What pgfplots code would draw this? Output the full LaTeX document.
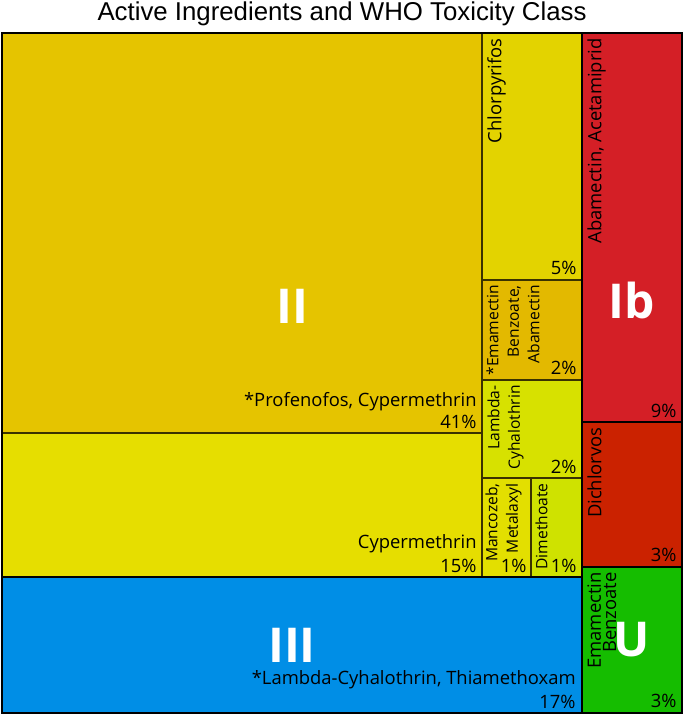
\documentclass[border=0pt]{standalone}
\usepackage{pgfplots}
\pgfplotsset{compat=1.18}
\usepackage{fontspec}
\setmainfont{Open Sans}
\newfontfamily\titlefont{Liberation Sans}
\definecolor{cII}{HTML}{E5C400}
\definecolor{cCyp}{HTML}{E6DE00}
\definecolor{cChl}{HTML}{E3D300}
\definecolor{cEmA}{HTML}{E3B900}
\definecolor{cLam}{HTML}{D7E100}
\definecolor{cMan}{HTML}{E3DF00}
\definecolor{cDim}{HTML}{CFE200}
\definecolor{cAba}{HTML}{D41F26}
\definecolor{cDic}{HTML}{CB2200}
\definecolor{cIII}{HTML}{008EE6}
\definecolor{cU}{HTML}{15BD00}
\definecolor{edge}{HTML}{3A3200}
\tikzset{
  lab/.style={font=\fontsize{9.2}{10}\selectfont, inner sep=0pt, text=black},
  rlab/.style={lab, rotate=90, anchor=north east, align=right},
  small/.style={font=\fontsize{7.8}{10.3}\selectfont},
  pct/.style={lab, anchor=base east},
  big/.style={font=\fontsize{24}{24}\bfseries\selectfont, text=white, inner sep=0pt},
}
\begin{document}
\begin{tikzpicture}
\begin{axis}[
  scale only axis, width=342.5pt, height=358pt,
  xmin=0, xmax=685, ymin=0, ymax=716, y dir=reverse,
  hide axis, clip=false,
]
\path (axis cs:0,0) rectangle (axis cs:685,716);
% class II items
\addplot[fill=cII, draw=edge, line width=0.6pt] coordinates {(2,33) (482,33) (482,433) (2,433)} --cycle;
\addplot[fill=cCyp, draw=edge, line width=0.6pt] coordinates {(2,433) (482,433) (482,577) (2,577)} --cycle;
\addplot[fill=cChl, draw=edge, line width=0.6pt] coordinates {(482,33) (582,33) (582,280) (482,280)} --cycle;
\addplot[fill=cEmA, draw=edge, line width=0.6pt] coordinates {(482,280) (582,280) (582,380) (482,380)} --cycle;
\addplot[fill=cLam, draw=edge, line width=0.6pt] coordinates {(482,380) (582,380) (582,478) (482,478)} --cycle;
\addplot[fill=cMan, draw=edge, line width=0.6pt] coordinates {(482,478) (531,478) (531,577) (482,577)} --cycle;
\addplot[fill=cDim, draw=edge, line width=0.6pt] coordinates {(531,478) (582,478) (582,577) (531,577)} --cycle;
% class Ib
\addplot[fill=cAba, draw=black, line width=0.6pt] coordinates {(582,33) (682,33) (682,422) (582,422)} --cycle;
\addplot[fill=cDic, draw=black, line width=0.6pt] coordinates {(582,422) (682,422) (682,567) (582,567)} --cycle;
% class III and U
\addplot[fill=cIII, draw=black, line width=0.6pt] coordinates {(2,577) (582,577) (582,713) (2,713)} --cycle;
\addplot[fill=cU, draw=black, line width=0.6pt] coordinates {(582,567) (682,567) (682,713) (582,713)} --cycle;
% group outlines
\addplot[draw=black, line width=1.1pt] coordinates {(2,33) (582,33) (582,577) (2,577)} --cycle;
\addplot[draw=black, line width=1.1pt] coordinates {(582,33) (682,33) (682,567) (582,567)} --cycle;
\addplot[draw=black, line width=1.1pt] coordinates {(2,577) (582,577) (582,713) (2,713)} --cycle;
\addplot[draw=black, line width=1.1pt] coordinates {(582,567) (682,567) (682,713) (582,713)} --cycle;
\addplot[draw=black, line width=1.4pt] coordinates {(2,33) (682,33) (682,713) (2,713)} --cycle;
% title
\node[font=\titlefont\fontsize{12.9}{13}\selectfont, anchor=base, inner sep=0pt] at (axis cs:342,21) {Active Ingredients and WHO Toxicity Class};
% big class labels
\node[big] at (axis cs:292,306) {II};
\node[big] at (axis cs:632,300) {Ib};
\node[big] at (axis cs:292,645) {III};
\node[big] at (axis cs:632,640) {U};
% horizontal labels
\node[pct] at (axis cs:477,406) {*Profenofos, Cypermethrin};
\node[pct] at (axis cs:477,428) {41\%};
\node[pct] at (axis cs:477,548) {Cypermethrin};
\node[pct] at (axis cs:477,572) {15\%};
\node[pct] at (axis cs:576,684) {*Lambda-Cyhalothrin, Thiamethoxam};
\node[pct] at (axis cs:576,708) {17\%};
% rotated labels
\node[rlab] at (axis cs:487,38) {Chlorpyrifos};
\node[pct] at (axis cs:577,275) {5\%};
\node[rlab, small] at (axis cs:486,285) {*Emamectin\\Benzoate,\\Abamectin};
\node[pct] at (axis cs:577,374) {2\%};
\node[rlab, small] at (axis cs:487,385) {Lambda-\\Cyhalothrin};
\node[pct] at (axis cs:577,473) {2\%};
\node[rlab, small] at (axis cs:485,483) {Mancozeb,\\Metalaxyl};
\node[pct] at (axis cs:527,572) {1\%};
\node[rlab, small] at (axis cs:535,483) {Dimethoate};
\node[pct] at (axis cs:577,572) {1\%};
\node[rlab] at (axis cs:587,38) {Abamectin, Acetamiprid};
\node[pct] at (axis cs:677,417) {9\%};
\node[rlab] at (axis cs:587,427) {Dichlorvos};
\node[pct] at (axis cs:677,561) {3\%};
\node[rlab, font=\fontsize{9.2}{7.6}\selectfont] at (axis cs:587,572) {Emamectin\\Benzoate};
\node[pct] at (axis cs:677,707) {3\%};
\end{axis}
\end{tikzpicture}
\end{document}
